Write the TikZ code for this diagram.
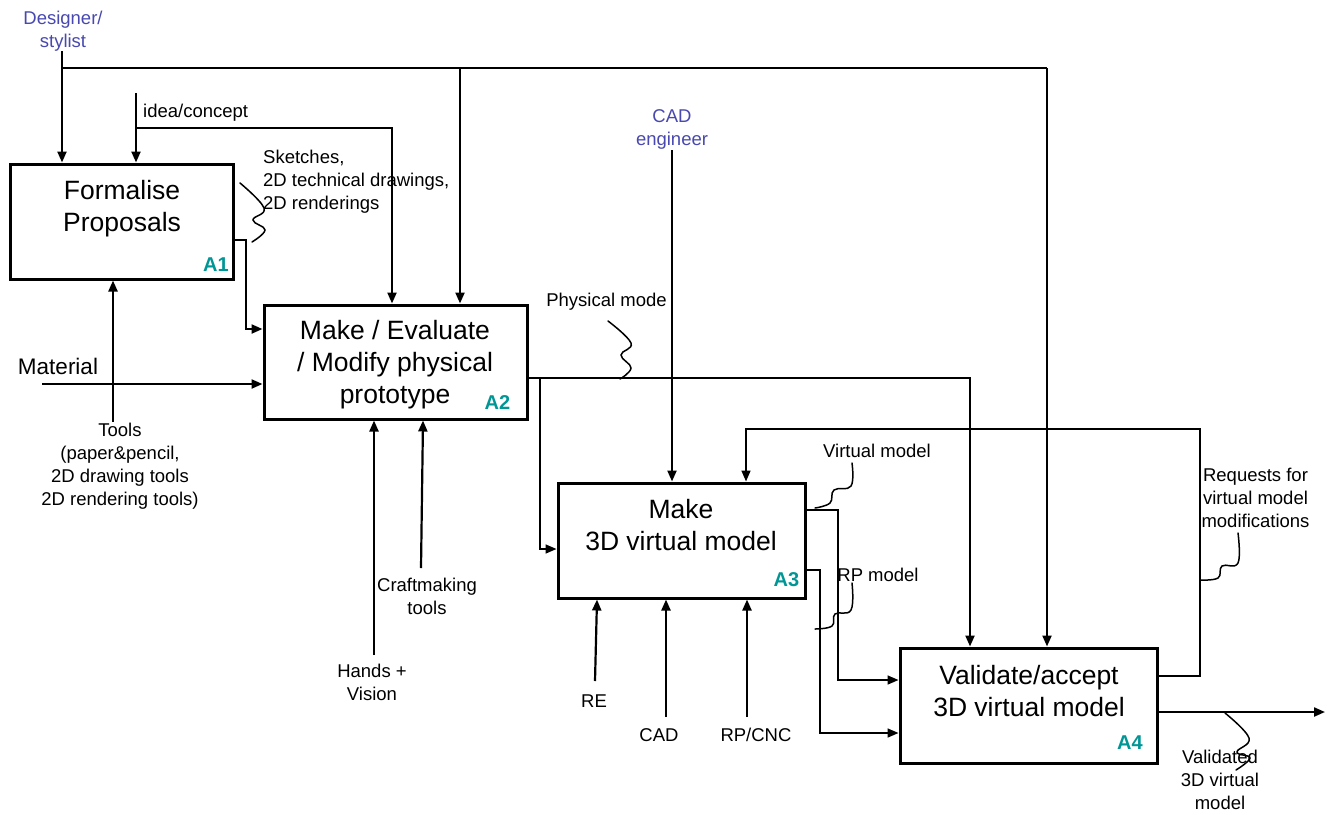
\documentclass[tikz,border=0pt]{standalone}
\usepackage{fontspec}
\setmainfont{Liberation Sans}
\usetikzlibrary{arrows.meta}
\definecolor{actor}{RGB}{72,72,176}
\definecolor{acode}{RGB}{0,150,150}
\begin{document}
\begin{tikzpicture}[x=1pt,y=-1pt,
  box/.style={draw, line width=3pt, inner sep=0pt},
  title/.style={font=\fontsize{26.5}{32}\selectfont, align=center, inner sep=0pt},
  lab/.style={font=\fontsize{18.5}{23}\selectfont, align=center, inner sep=0pt},
  actorlab/.style={lab, text=actor},
  code/.style={font=\fontsize{20}{24}\selectfont\bfseries, text=acode, inner sep=0pt},
  arr/.style={line width=2.2pt, -{Triangle[length=11pt,width=9pt]}},
  ln/.style={line width=2.2pt},
  tarr/.style={line width=1.6pt, -{Triangle[length=11pt,width=9pt]}},
  sq/.style={line width=1.5pt, line cap=round}
]
\useasboundingbox[fill=white] (0,0) rectangle (1332,814);

% boxes
\node[box, minimum width=223pt, minimum height=115pt] (A1) at (121.5,221.5) {};
\node[box, minimum width=263pt, minimum height=114pt] (A2) at (395.5,362) {};
\node[box, minimum width=247pt, minimum height=115pt] (A3) at (681.5,540.5) {};
\node[box, minimum width=257pt, minimum height=115pt] (A4) at (1028.5,705.5) {};

% titles
\node[title] (A1t) at (122,208.5) {Formalise\\Proposals};
\node[title] (A2t) at (395,364.5) {Make / Evaluate\\/ Modify physical\\prototype};
\node[title] (A3t) at (681,525) {Make\\3D virtual model};
\node[title] (A4t) at (1029,691) {Validate/accept\\3D virtual model};

% codes
\node[code] (A1c) at (216,265) {A1};
\node[code] (A2c) at (497.5,402.5) {A2};
\node[code] (A3c) at (786.5,579.5) {A3};
\node[code] (A4c) at (1130,743) {A4};

% labels
\node[actorlab] (des) at (63,31) {Designer/\\stylist};
\node[actorlab] (cade) at (672,129) {CAD\\engineer};
\node[lab, anchor=west] (idea) at (143,113) {idea/concept};
\node[lab, align=left, anchor=north west] (skl) at (263,149.5) {Sketches,\\2D technical drawings,\\2D renderings};
\node[lab] (phys) at (606.5,302) {Physical mode};
\node[font=\fontsize{22.5}{27}\selectfont, inner sep=0pt] (mat) at (58,366.5) {Material};
\node[lab] (tools) at (120,466) {Tools\\(paper\&pencil,\\2D drawing tools\\2D rendering tools)};
\node[lab] (craft) at (427,596.5) {Craftmaking\\tools};
\node[lab] (hands) at (372,682.5) {Hands +\\Vision};
\node[lab] (vm) at (877,451) {Virtual model};
\node[lab] (rpm) at (878,575) {RP model};
\node[lab] (re) at (594,701.5) {RE};
\node[lab] (cad) at (659,735) {CAD};
\node[lab] (rpcnc) at (756,735) {RP/CNC};
\node[lab] (req) at (1255.5,498) {Requests for\\virtual model\\modifications};
\node[lab] (val) at (1220,779.5) {Validated\\3D virtual\\model};

% coordinates
\coordinate (desJ) at (62,68);
\coordinate (desM) at (460,68);
\coordinate (desR) at (1047,68);
\coordinate (ic0) at (136,93);
\coordinate (ic1) at (136,128);
\coordinate (ic2) at (392,128);
\coordinate (s1) at (246,240);
\coordinate (s2) at (246,329);
\coordinate (mat0) at (42,384);
\coordinate (tl0) at (113,422);
\coordinate (hv0) at (374,655);
\coordinate (cm0) at (421,568);
\coordinate (p0) at (540,378);
\coordinate (p1) at (970,378);
\coordinate (p2) at (540,549);
\coordinate (ce0) at (672,150);
\coordinate (f1) at (1200,676);
\coordinate (f2) at (1200,429);
\coordinate (f3) at (746,429);
\coordinate (v1) at (838,510);
\coordinate (v2) at (838,680);
\coordinate (r1) at (820,570);
\coordinate (r2) at (820,733);
\coordinate (re0) at (595,681);
\coordinate (cad0) at (666,717);
\coordinate (rp0) at (747,717);
\coordinate (out) at (1325,712);

% designer
\draw[arr] (des.south -| desJ) -- (A1.north -| desJ);
\draw[ln] (desJ) -- (desR);
\draw[arr] (desM) -- (A2.north -| desM);
\draw[arr] (desR) -- (A4.north -| desR);

% idea/concept
\draw[arr] (ic0) -- (A1.north -| ic0);
\draw[arr] (ic1) -- (ic2) -- (A2.north -| ic2);

% A1 -> A2
\draw[arr] (A1.east |- s1) -- (s1) -- (s2) -- (A2.west |- s2);

% material, tools
\draw[arr] (mat0) -- (A2.west |- mat0);
\draw[arr] (tl0) -- (A1.south -| tl0);
\draw[arr] (hv0) -- (A2.south -| hv0);
\draw[arr] (cm0) -- (A2.south -| 423,0);

% A2 outputs
\draw[arr] (A2.east |- p1) -- (p1) -- (A4.north -| p1);
\draw[tarr] (p0) -- (p2) -- (A3.west |- p2);

% CAD engineer
\draw[arr] (ce0) -- (A3.north -| ce0);

% feedback
\draw[tarr] (A4.east |- f1) -- (f1) -- (f2) -- (f3) -- (A3.north -| f3);

% A3 outputs
\draw[tarr] (A3.east |- v1) -- (v1) -- (v2) -- (A4.west |- v2);
\draw[tarr] (A3.east |- r1) -- (r1) -- (r2) -- (A4.west |- r2);

% A3 mechanisms
\draw[arr] (re0) -- (A3.south -| 597,0);
\draw[arr] (cad0) -- (A3.south -| cad0);
\draw[arr] (rp0) -- (A3.south -| rp0);

% A4 output
\draw[arr] (A4.east |- out) -- (out);

% squiggles
\draw[sq] plot[smooth, tension=0.7] coordinates {(240,183) (264,208) (253,220) (265,230) (252,242)};
\draw[sq] plot[smooth, tension=0.7] coordinates {(608,321) (631,343) (621,355) (631,368) (620,379)};
\draw[sq] plot[smooth, tension=0.7] coordinates {(852,463) (851,486) (834,490) (830,503) (815,508)};
\draw[sq] plot[smooth, tension=0.7] coordinates {(852,583) (851,610) (835,614) (832,626) (815,629)};
\draw[sq] plot[smooth, tension=0.7] coordinates {(1238,533) (1238,563) (1222,566) (1218,578) (1200,580)};
\draw[sq] plot[smooth, tension=0.7] coordinates {(1225,713) (1249,738) (1237,752) (1250,758) (1236,770)};
\end{tikzpicture}
\end{document}
